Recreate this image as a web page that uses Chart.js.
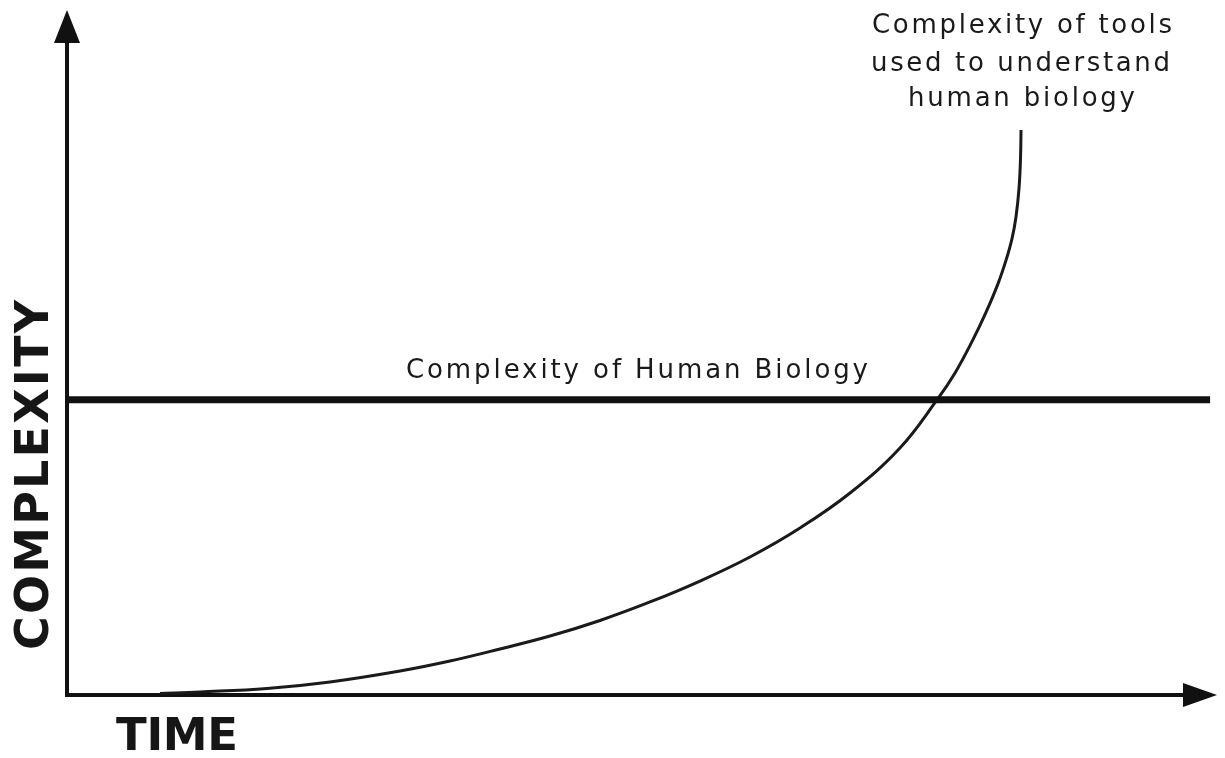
<!DOCTYPE html>
<html>
<head>
<meta charset="utf-8">
<script src="https://cdn.jsdelivr.net/npm/chart.js@4/dist/chart.umd.min.js"></script>
<style>
  html, body { margin: 0; padding: 0; background: #ffffff; }
  #wrap { width: 1225px; height: 758px; position: relative; }
</style>
</head>
<body>
<div id="wrap"><canvas id="c"></canvas></div>
<script>
// ---- data (abstract units: time 0..100, complexity 0..100) ----
const timeValues     = [8.09, 11.57, 17.39, 22.87, 28.96, 33.30, 37.65, 42.00, 46.35, 50.70, 55.04, 59.39, 63.74, 68.09, 72.43, 75.65, 77.22, 78.78, 79.91, 80.96, 81.65, 82.17, 82.52, 82.78, 82.91, 82.96];
const toolComplexity = [0.22, 0.44, 0.95, 1.90, 3.50, 4.96, 6.72, 8.61, 10.88, 13.58, 16.64, 20.15, 24.38, 29.49, 36.06, 43.07, 47.01, 51.87, 55.85, 60.06, 63.45, 66.60, 69.78, 73.87, 78.10, 82.48];
const biologyTime       = [0, 99.4];
const biologyComplexity = [43.1, 43.1];
const xAxisTitle = 'TIME';
const yAxisTitle = 'COMPLEXITY';
const biologyLabel = 'Complexity of Human Biology';
const toolsLabel = ['Complexity of tools', 'used to understand', 'human biology'];

const toolPoints = timeValues.map((t, i) => ({ x: t, y: toolComplexity[i] }));
const biologyPoints = biologyTime.map((t, i) => ({ x: t, y: biologyComplexity[i] }));

function spacedText(ctx, text, left, baseline, width) {
  ctx.letterSpacing = '0px';
  const w = ctx.measureText(text).width;
  const sp = text.length > 1 ? (width - w) / (text.length - 1) : 0;
  ctx.letterSpacing = sp + 'px';
  ctx.fillText(text, left, baseline);
  ctx.letterSpacing = '0px';
}

const decor = {
  id: 'decor',
  beforeDatasetsDraw(chart) {
    const { ctx, scales: { x, y } } = chart;
    const x0 = x.getPixelForValue(0), y0 = y.getPixelForValue(0);
    const xTip = x.getPixelForValue(100), yTip = y.getPixelForValue(100);
    ctx.save();
    ctx.strokeStyle = '#111';
    ctx.fillStyle = '#111';
    ctx.lineWidth = 4;
    ctx.lineCap = 'butt';
    // y axis
    ctx.beginPath();
    ctx.moveTo(x0, y0 + 2);
    ctx.lineTo(x0, yTip + 30);
    ctx.stroke();
    ctx.beginPath();
    ctx.moveTo(x0, yTip);
    ctx.lineTo(x0 - 13, yTip + 33);
    ctx.lineTo(x0 + 13, yTip + 33);
    ctx.closePath();
    ctx.fill();
    // x axis
    ctx.beginPath();
    ctx.moveTo(x0 - 2, y0);
    ctx.lineTo(xTip - 30, y0);
    ctx.stroke();
    ctx.beginPath();
    ctx.moveTo(xTip, y0);
    ctx.lineTo(xTip - 34, y0 - 12);
    ctx.lineTo(xTip - 34, y0 + 12);
    ctx.closePath();
    ctx.fill();
    ctx.restore();
  },
  afterDatasetsDraw(chart) {
    const { ctx, scales: { x, y } } = chart;
    const x0 = x.getPixelForValue(0), y0 = y.getPixelForValue(0);
    ctx.save();
    ctx.textBaseline = 'alphabetic';
    ctx.textAlign = 'left';
    // axis titles
    ctx.fillStyle = '#161616';
    ctx.font = 'bold 45px "DejaVu Sans"';
    spacedText(ctx, xAxisTitle, 116, y0 + 55, 122);
    ctx.save();
    ctx.translate(x0 - 19, 650);
    ctx.rotate(-Math.PI / 2);
    ctx.font = 'bold 46px "DejaVu Sans"';
    spacedText(ctx, yAxisTitle, 0, 0, 350);
    ctx.restore();
    // series labels
    ctx.fillStyle = '#1a1a1a';
    ctx.font = '26px "DejaVu Sans"';
    const by = y.getPixelForValue(biologyComplexity[0]);
    spacedText(ctx, biologyLabel, 406, by - 22, 462);
    spacedText(ctx, toolsLabel[0], 872, 33, 300);
    spacedText(ctx, toolsLabel[1], 871, 71, 299);
    spacedText(ctx, toolsLabel[2], 908, 106, 227);
    ctx.restore();
  }
};

new Chart(document.getElementById('c'), {
  type: 'line',
  data: {
    datasets: [
      {
        label: 'Complexity of Human Biology',
        data: biologyPoints,
        borderColor: '#111',
        borderWidth: 7,
        pointRadius: 0,
        borderCapStyle: 'butt',
        tension: 0
      },
      {
        label: 'Complexity of tools used to understand human biology',
        data: toolPoints,
        borderColor: '#1a1a1a',
        borderWidth: 3,
        pointRadius: 0,
        cubicInterpolationMode: 'default',
        tension: 0.4
      }
    ]
  },
  options: {
    responsive: true,
    maintainAspectRatio: false,
    animation: false,
    layout: { padding: { left: 67, right: 8, top: 10, bottom: 63 } },
    plugins: { legend: { display: false }, tooltip: { enabled: false } },
    scales: {
      x: { type: 'linear', min: 0, max: 100, display: false },
      y: { type: 'linear', min: 0, max: 100, display: false }
    }
  },
  plugins: [decor]
});
</script>
</body>
</html>
